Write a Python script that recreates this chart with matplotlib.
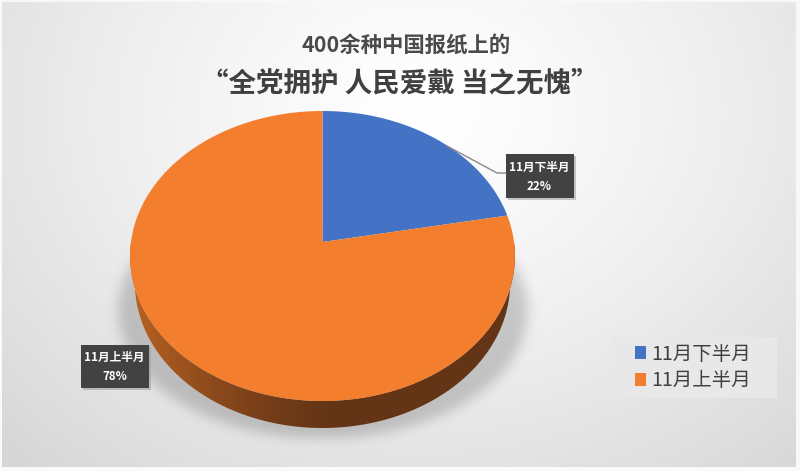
import numpy as np
import matplotlib
matplotlib.use("Agg")
import matplotlib.pyplot as plt
from matplotlib.patches import Polygon, Rectangle, Patch

plt.rcParams['font.family'] = ['Noto Sans CJK SC', 'DejaVu Sans']

categories = ['11月下半月', '11月上半月']
values = [22, 78]
colors = ['#4472C4', '#F37F2E']
title_top = '400余种中国报纸上的'
title_main = '“全党拥护 人民爱戴 当之无愧”'

W, H = 800, 471
fig = plt.figure(figsize=(8.0, 4.71), dpi=100)
ax = fig.add_axes([0, 0, 1, 1])
ax.set_xlim(0, W); ax.set_ylim(H, 0); ax.axis('off')

# background gradient
yy, xx = np.mgrid[0:H, 0:W]
d = np.sqrt(((xx - 420) / 520.0) ** 2 + ((yy - 110) / 420.0) ** 2)
bg = np.clip(255 - 34 * d ** 1.3, 205, 255)

# pie geometry (perspective disc)
cx, cy, rx, ry, depth = 322.5, 256.0, 191.5, 145.0, 27.0
persp = 14.0 / ry

def project(theta):
    u, v = np.sin(theta), np.cos(theta)
    k = 1 + persp * v
    return cx + rx * u / k, cy - (ry * v + 14.0) / k

def blur(a, s):
    x = np.arange(-3 * s, 3 * s + 1)
    g = np.exp(-x ** 2 / (2.0 * s * s)); g /= g.sum()
    a = np.apply_along_axis(lambda r: np.convolve(r, g, mode='same'), 0, a)
    return np.apply_along_axis(lambda r: np.convolve(r, g, mode='same'), 1, a)

# soft shadow under the disc
m = (((xx - cx) / 205.0) ** 2 + ((yy - 310) / 128.0) ** 2 <= 1).astype(float)
m[:255, :] = 0
shadow = blur(m, 6)
bg = bg - 42 * shadow
bg[H - 4:, :] = 250
bg[:, W - 4:] = 248
bg[:, :2] = 250
bg[:2, :] = 248
ax.imshow(np.dstack([bg, bg, bg + 1]).clip(0, 255).astype(np.uint8),
          extent=(0, W, H, 0), aspect='auto', zorder=0, interpolation='bilinear')
ax.set_xlim(0, W); ax.set_ylim(H, 0)

# side wall with shading
lower = np.linspace(np.pi / 2, 3 * np.pi / 2, 181)
lx, ly = project(lower)
bx = cx + (lx - cx) * 0.975
side_pts = np.column_stack([np.r_[lx, bx[::-1]], np.r_[ly, ly[::-1] + depth]])
side = Polygon(side_pts, closed=True, fc='none', ec='none', zorder=2)
ax.add_patch(side)
shade = np.clip((cx - np.arange(W) + 20) / (rx + 20), 0, 1)
c0, c1 = np.array([0x64, 0x34, 0x16]), np.array([0xB8, 0x62, 0x22])
grad = (c0[None, :] + (c1 - c0)[None, :] * shade[:, None] ** 1.5).astype(np.uint8)[None, :, :]
im = ax.imshow(grad, extent=(0, W, H, 0), aspect='auto', zorder=2)
im.set_clip_path(side)
ax.set_xlim(0, W); ax.set_ylim(H, 0)

# slices
total = float(sum(values))
start = 0.0
vy = cy - 14.0
for val, col in zip(values, colors):
    end = start + val / total * 2 * np.pi
    th = np.linspace(start, end, max(int(val * 4), 8))
    px, py = project(th)
    ax.add_patch(Polygon(np.column_stack([np.r_[cx, px], np.r_[vy, py]]), closed=True,
                         fc=col, ec='none', zorder=3))
    start = end

# titles
tc = '#404040'
ax.text(406, 46, title_top, ha='center', va='center', fontsize=15.4, fontweight='bold', color='#4a4a4a', zorder=6)
ax.text(400, 83, title_main, ha='center', va='center', fontsize=19.8, fontweight='bold', color=tc, zorder=6)

# data labels
def label(x0, y0, w, h, name, val):
    ax.add_patch(Rectangle((x0 + 2, y0 + 2), w, h, fc='#9a9a9a', ec='none', alpha=.55, zorder=6))
    ax.add_patch(Rectangle((x0, y0), w, h, fc='#424242', ec='none', zorder=7))
    ax.text(x0 + w / 2, y0 + h * .30, name, ha='center', va='center', color='white',
            fontsize=8.4, fontweight='bold', zorder=8)
    ax.text(x0 + w / 2, y0 + h * .73, f'{val}%', ha='center', va='center', color='white',
            fontsize=8.4, fontweight='bold', zorder=8)

ax.plot([447, 497, 505.5], [146, 173, 173], color='#8a8a8a', lw=1, zorder=5)
label(505.5, 154, 68, 44, categories[0], values[0])
label(80.5, 345, 68, 43, categories[1], values[1])

# legend
ax.add_patch(Rectangle((610, 337), 167, 61, fc='#e8e8e8', ec='none', zorder=5))
handles = [Patch(fc=c, ec='none', label=n) for n, c in zip(categories, colors)]
leg = ax.legend(handles=handles, loc='center', bbox_to_anchor=(693, 367.5), bbox_transform=ax.transData,
                fontsize=14.0, frameon=False, handlelength=0.55, handleheight=0.62, handletextpad=0.3,
                labelspacing=0.3, borderpad=0, borderaxespad=0, labelcolor='#404040')
leg.set_zorder(6)

fig.savefig('out.png', dpi=100)
